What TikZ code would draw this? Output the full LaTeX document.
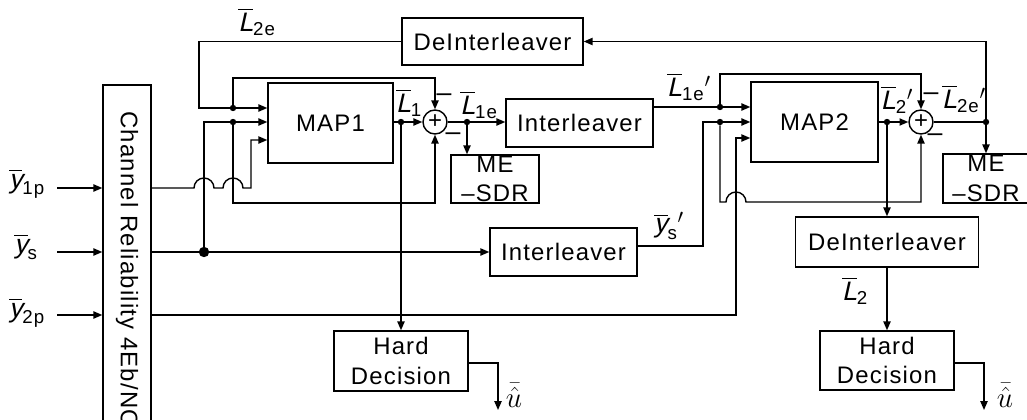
\documentclass[tikz,border=0pt]{standalone}
\usepackage{amsmath}
\usepackage{fontspec}
\setmainfont{Liberation Sans}[LetterSpace=5]
\newfontfamily\slfont{Liberation Sans}[FakeSlant=0.22]
\usepackage{tikz}
\usetikzlibrary{arrows.meta}

\newcommand{\boxfont}{\fontsize{17}{21}\selectfont}
\newcommand{\lblfont}{\fontsize{19}{19}\selectfont}
\newcommand{\sigbar}[2]{$\overline{\mbox{\slfont #1}}_{\text{#2}}$}
\newcommand{\sigbarp}[2]{$\overline{\mbox{\slfont #1}}_{\text{#2}}{}^{\prime}$}

\tikzset{
  blk/.style={draw, line width=1pt, inner sep=0pt, align=center, font=\boxfont},
  sumnode/.style={draw, circle, line width=1pt, minimum size=0.6cm, inner sep=0pt, font=\boxfont},
  jdot/.style={circle, fill, inner sep=0pt, minimum size=0.16cm},
  bigdot/.style={circle, fill, inner sep=0pt, minimum size=0.26cm},
  sig/.style={line width=1pt},
  flow/.style={sig, -{Triangle[length=0.22cm,width=0.18cm]}},
  lbl/.style={inner sep=0pt, font=\lblfont},
}

\begin{document}
\begin{tikzpicture}[x=0.025cm, y=-0.025cm]
    \useasboundingbox (0,0) rectangle (1027,420);
    \clip (0,0) rectangle (1027,420);
    % Channel reliability block
    \node[blk, minimum width=1.2cm, minimum height=9cm] (cr) at (127,265) {};
    \node[inner sep=0pt, font=\boxfont, rotate=-90, anchor=west] (crtxt) at (127,111) {Channel Reliability 4Eb/NO};
    % Blocks
    \node[blk, minimum width=3.125cm, minimum height=2cm] (map1) at (330.5,123) {MAP1};
    \node[blk, minimum width=3.175cm, minimum height=2cm] (map2) at (814.5,122) {MAP2};
    \node[blk, minimum width=4.525cm, minimum height=1.175cm] (dei1) at (492.5,41.5) {DeInterleaver};
    \node[blk, minimum width=3.675cm, minimum height=1.2cm] (int1) at (579.5,123) {Interleaver};
    \node[blk, minimum width=2.2cm, minimum height=1.2cm] (mes1) at (495,179) {ME\\--SDR};
    \node[blk, minimum width=3.675cm, minimum height=1.2cm] (int2) at (563.5,252) {Interleaver};
    \node[blk, minimum width=3.35cm, minimum height=1.5cm] (hd1) at (401,361) {Hard\\Decision};
    \node[blk, minimum width=4.575cm, minimum height=1.25cm] (dei2) at (887,242) {DeInterleaver};
    \node[blk, minimum width=3.35cm, minimum height=1.475cm] (hd2) at (887,360.5) {Hard\\Decision};
    \node[blk, minimum width=2.15cm, minimum height=1.225cm] (mes2) at (986,178.5) {ME\\--SDR};
    % Adders
    \node[sumnode] (add1) at (435,122) {+};
    \node[sumnode] (add2) at (921,122) {+};
    % Junctions
    \node[jdot] (j1) at (233,108) {};
    \node[jdot] (j2) at (233,122) {};
    \node[jdot] (j3) at (401,122) {};
    \node[jdot] (j4) at (467,122) {};
    \node[jdot] (j5) at (720,107) {};
    \node[jdot] (j6) at (720,122) {};
    \node[jdot] (j7) at (887,122) {};
    \node[jdot] (j8) at (986,122) {};
    \node[bigdot] (jys) at (204,252) {};
    \coordinate (y1pin) at (57,188);
    \coordinate (ysin) at (57,252);
    \coordinate (y2pin) at (57,315);
    \coordinate (uhat1) at (498,410);
    \coordinate (uhat2) at (984,410);
    % Channel inputs
    \draw[flow] (y1pin) -- (y1pin -| cr.west);
    \draw[flow] (ysin) -- (ysin -| cr.west);
    \draw[flow] (y2pin) -- (y2pin -| cr.west);
    % Decoder 1
    \draw[flow] (dei1.west) -| (199,108) -- (map1.west |- j1);
    \draw[flow] (ysin -| cr.east) -- (int2.west);
    \draw[flow] (jys) |- (map1.west |- j2);
    \draw[flow] (y1pin -| cr.east) -- (194,188) arc[start angle=180, end angle=0, radius=0.25cm]
        -- (223,188) arc[start angle=180, end angle=0, radius=0.25cm]
        -- (251,188) |- ([yshift=-0.425cm]map1.west);
    \draw[flow] (j1) -- (233,78) -| (add1.north);
    \draw[flow] (j2) -- (233,203) -| (add1.south);
    \draw[flow] (map1.east |- add1) -- (add1.west);
    \draw[flow] (j3) -- (hd1.north);
    \draw[flow] (add1.east) -- (int1.west |- add1);
    \draw[flow] (j4) -- (mes1.north -| j4);
    % Decoder 2
    \draw[flow] (int1.east |- j5) -- (map2.west |- j5);
    \draw[flow] (j5) -- (720,74) -| (add2.north);
    \draw[flow] (int2.east |- 0,246) -- (703,246) |- (map2.west |- j6);
    \draw[flow] (j6) -- (720,202) -- (726,202) arc[start angle=180, end angle=0, radius=0.25cm]
        -| (add2.south);
    \draw[flow] (y2pin -| cr.east) -- (736,315) |- ([yshift=-0.4cm]map2.west);
    \draw[flow] (map2.east |- add2) -- (add2.west);
    \draw[flow] (j7) -- (dei2.north);
    \draw[flow] (dei2.south) -- (hd2.north);
    \draw[sig] (add2.east) -- (j8);
    \draw[flow] (j8) -- (mes2.north -| j8);
    \draw[flow] (j8) |- (dei1.east);
    % Decisions
    \draw[flow] (hd1.east |- 0,363) -| (uhat1);
    \draw[flow] (hd2.east |- 0,363) -| (uhat2);
    % Labels
    \node[lbl] (ly1p) at (27,184) {\sigbar{y}{1p}};
    \node[lbl] (lys) at (26,247) {\sigbar{y}{s}};
    \node[lbl] (ly2p) at (27,313) {\sigbar{y}{2p}};
    \node[lbl] (ll2e) at (257,22) {\sigbar{L}{2e}};
    \node[lbl] (ll1) at (409,103) {\sigbar{L}{1}};
    \node[lbl] (ll1e) at (479,105) {\sigbar{L}{1e}};
    \node[lbl] (ll1ep) at (689,87) {\sigbarp{L}{1e}};
    \node[lbl] (lysp) at (669,226) {\sigbarp{y}{s}};
    \node[lbl] (ll2p) at (897,100) {\sigbarp{L}{2}};
    \node[lbl] (ll2ep) at (964,99) {\sigbarp{L}{2e}};
    \node[lbl] (ll2) at (855,291) {\sigbar{L}{2}};
    \node[lbl, font=\fontsize{21}{21}\selectfont] (lu1) at (514,395) {$\bar{\hat{u}}$};
    \node[lbl, font=\fontsize{21}{21}\selectfont] (lu2) at (1005,395) {$\bar{\hat{u}}$};
    % Signs
    \node[lbl] (s1a) at (444,98) {--};
    \node[lbl] (s1b) at (453,137) {--};
    \node[lbl] (s2a) at (931,97) {--};
    \node[lbl] (s2b) at (935,138) {--};
\end{tikzpicture}
\end{document}
